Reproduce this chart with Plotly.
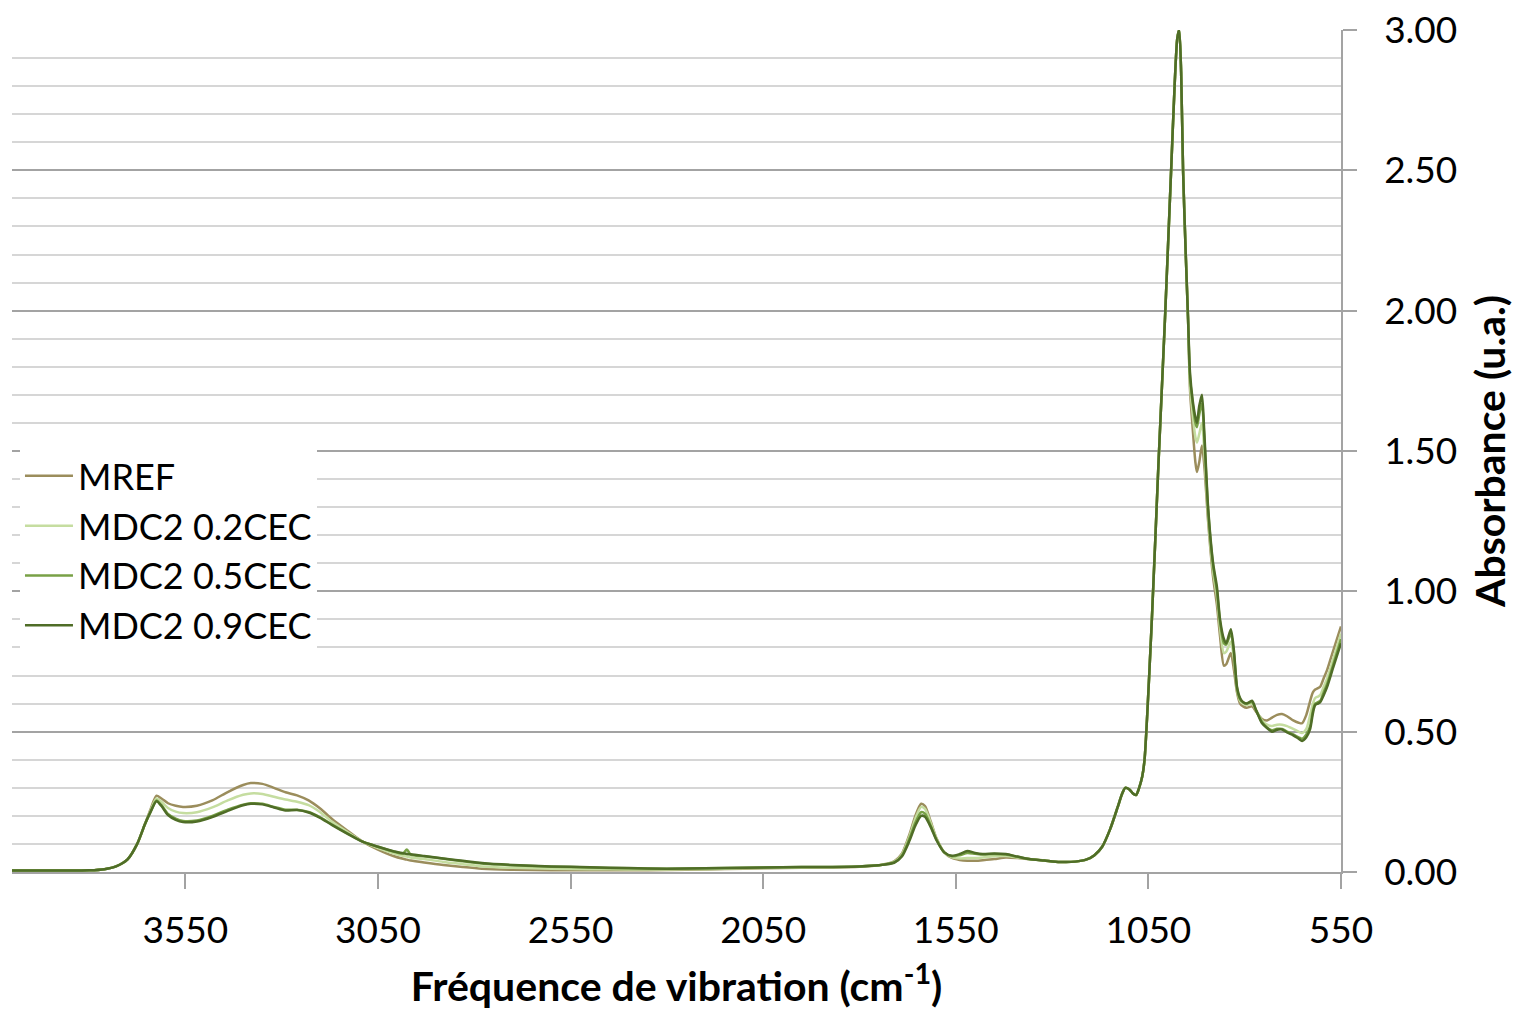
import plotly.graph_objects as go

# Wavenumber grid (cm-1), descending
wavenumber = [
    4000, 3900, 3800, 3760, 3730, 3700, 3675, 3655, 3640, 3625, 3612, 3595, 3575, 3556,
    3520, 3480, 3440, 3400, 3380, 3350, 3320, 3290, 3260, 3230, 3200, 3170, 3130, 3090,
    3050, 3010, 2985, 2975, 2965, 2930, 2880, 2830, 2780, 2700, 2600, 2500, 2400, 2300,
    2200, 2100, 2000, 1900, 1800, 1750, 1710, 1690, 1670, 1655, 1640, 1630, 1615, 1600,
    1580, 1560, 1540, 1520, 1500, 1480, 1450, 1420, 1390, 1360, 1320, 1280, 1240, 1210,
    1190, 1170, 1150, 1130, 1118, 1110, 1100, 1090, 1082, 1074, 1066, 1060, 1041, 1024,
    1007, 991, 982, 975, 970, 965, 960, 953, 947, 942, 935, 928, 924, 918, 911, 905,
    895, 882, 872, 864, 854, 848, 836, 828, 820, 812, 804, 795, 781, 770, 755, 742,
    729, 716, 703, 690, 674, 660, 651, 640, 630, 623, 617, 610, 604, 595, 586, 570, 550,
]

mref = [
    0.005, 0.005, 0.006, 0.010, 0.020, 0.045, 0.10, 0.17, 0.225, 0.272, 0.262, 0.245, 0.236, 0.232,
    0.236, 0.255, 0.285, 0.310, 0.317, 0.314, 0.300, 0.284, 0.273, 0.255, 0.226, 0.190, 0.148, 0.108,
    0.080, 0.057, 0.047, 0.044, 0.041, 0.034, 0.025, 0.018, 0.012, 0.008, 0.006, 0.006, 0.006, 0.007,
    0.009, 0.012, 0.014, 0.016, 0.019, 0.024, 0.038, 0.065, 0.135, 0.200, 0.243, 0.235, 0.180, 0.120,
    0.070, 0.050, 0.043, 0.040, 0.040, 0.042, 0.046, 0.052, 0.050, 0.046, 0.041, 0.036, 0.037, 0.045,
    0.060, 0.090, 0.150, 0.230, 0.280, 0.300, 0.295, 0.280, 0.274, 0.300, 0.340, 0.400, 0.900, 1.450,
    1.970, 2.500, 2.800, 2.970, 3.000, 2.850, 2.500, 2.200, 1.970, 1.720, 1.580, 1.460, 1.425, 1.460, 1.520, 1.450,
    1.250, 1.050, 0.950, 0.840, 0.735, 0.740, 0.780, 0.720, 0.640, 0.600, 0.590, 0.585, 0.590, 0.570, 0.545, 0.540,
    0.550, 0.560, 0.563, 0.555, 0.540, 0.532, 0.530, 0.560, 0.610, 0.640, 0.650, 0.655, 0.660, 0.690, 0.720, 0.790, 0.875,
]

mdc2_02 = [
    0.005, 0.005, 0.006, 0.010, 0.020, 0.045, 0.10, 0.17, 0.220, 0.262, 0.250, 0.228, 0.215, 0.210,
    0.213, 0.230, 0.255, 0.275, 0.280, 0.278, 0.268, 0.258, 0.250, 0.238, 0.213, 0.180, 0.143, 0.108,
    0.085, 0.067, 0.058, 0.055, 0.052, 0.046, 0.036, 0.028, 0.020, 0.015, 0.012, 0.010, 0.009, 0.009,
    0.010, 0.013, 0.015, 0.017, 0.020, 0.024, 0.036, 0.062, 0.128, 0.190, 0.232, 0.225, 0.175, 0.118,
    0.070, 0.052, 0.048, 0.050, 0.050, 0.052, 0.056, 0.057, 0.052, 0.046, 0.041, 0.036, 0.037, 0.045,
    0.060, 0.090, 0.150, 0.230, 0.280, 0.300, 0.295, 0.280, 0.274, 0.300, 0.340, 0.400, 0.900, 1.450,
    1.970, 2.500, 2.800, 2.970, 3.000, 2.850, 2.500, 2.200, 1.970, 1.740, 1.630, 1.550, 1.530, 1.560, 1.600, 1.500,
    1.270, 1.070, 0.980, 0.870, 0.780, 0.785, 0.820, 0.760, 0.650, 0.610, 0.600, 0.595, 0.600, 0.575, 0.540, 0.525,
    0.520, 0.525, 0.525, 0.520, 0.510, 0.500, 0.495, 0.510, 0.560, 0.600, 0.620, 0.625, 0.630, 0.660, 0.690, 0.760, 0.850,
]

mdc2_05 = [
    0.005, 0.005, 0.006, 0.010, 0.020, 0.045, 0.10, 0.17, 0.215, 0.255, 0.238, 0.207, 0.190, 0.182,
    0.184, 0.200, 0.222, 0.240, 0.245, 0.243, 0.232, 0.222, 0.222, 0.214, 0.195, 0.170, 0.138, 0.108,
    0.090, 0.073, 0.066, 0.080, 0.062, 0.056, 0.047, 0.038, 0.030, 0.024, 0.019, 0.016, 0.013, 0.012,
    0.013, 0.015, 0.017, 0.018, 0.020, 0.024, 0.034, 0.058, 0.120, 0.175, 0.213, 0.208, 0.165, 0.115,
    0.070, 0.056, 0.060, 0.068, 0.065, 0.062, 0.064, 0.062, 0.054, 0.046, 0.041, 0.036, 0.037, 0.045,
    0.060, 0.090, 0.150, 0.230, 0.280, 0.300, 0.295, 0.280, 0.274, 0.300, 0.340, 0.400, 0.900, 1.450,
    1.970, 2.500, 2.800, 2.970, 3.000, 2.850, 2.500, 2.200, 1.970, 1.760, 1.670, 1.600, 1.585, 1.630, 1.670, 1.550,
    1.290, 1.090, 1.000, 0.890, 0.815, 0.810, 0.850, 0.780, 0.655, 0.615, 0.605, 0.600, 0.605, 0.575, 0.535, 0.515,
    0.505, 0.510, 0.510, 0.500, 0.490, 0.480, 0.475, 0.490, 0.520, 0.575, 0.600, 0.605, 0.610, 0.640, 0.670, 0.740, 0.830,
]

mdc2_09 = [
    0.005, 0.005, 0.006, 0.010, 0.020, 0.045, 0.10, 0.17, 0.215, 0.252, 0.235, 0.203, 0.186, 0.178,
    0.180, 0.196, 0.218, 0.238, 0.243, 0.241, 0.230, 0.219, 0.221, 0.212, 0.193, 0.168, 0.137, 0.108,
    0.090, 0.074, 0.067, 0.064, 0.063, 0.057, 0.048, 0.040, 0.032, 0.025, 0.020, 0.017, 0.014, 0.012,
    0.013, 0.015, 0.017, 0.018, 0.020, 0.024, 0.033, 0.055, 0.112, 0.165, 0.200, 0.197, 0.160, 0.113,
    0.070, 0.058, 0.064, 0.075, 0.068, 0.064, 0.066, 0.064, 0.055, 0.046, 0.041, 0.036, 0.037, 0.045,
    0.060, 0.090, 0.150, 0.230, 0.280, 0.300, 0.295, 0.280, 0.274, 0.300, 0.340, 0.400, 0.900, 1.450,
    1.970, 2.500, 2.800, 2.970, 3.000, 2.850, 2.500, 2.200, 1.970, 1.780, 1.680, 1.620, 1.600, 1.660, 1.700, 1.570,
    1.300, 1.100, 1.015, 0.900, 0.830, 0.815, 0.865, 0.790, 0.660, 0.620, 0.605, 0.600, 0.610, 0.575, 0.530, 0.513,
    0.500, 0.507, 0.508, 0.497, 0.487, 0.475, 0.467, 0.480, 0.510, 0.565, 0.595, 0.600, 0.605, 0.630, 0.660, 0.730, 0.815,
]

series = [
    ("MREF", mref, "#9B8D5C"),
    ("MDC2 0.2CEC", mdc2_02, "#C5DDA0"),
    ("MDC2 0.5CEC", mdc2_05, "#78A146"),
    ("MDC2 0.9CEC", mdc2_09, "#4F6D27"),
]

x_ticks = [3550, 3050, 2550, 2050, 1550, 1050, 550]

FONT = "Lato, 'Noto Sans', sans-serif"
MAJOR_GRID = "#a3a3a3"
MINOR_GRID = "#d6d6d6"

fig = go.Figure()
for name, values, color in series:
    fig.add_trace(go.Scatter(
        x=wavenumber, y=values, name=name, mode="lines",
        line=dict(color=color, width=2.5, shape="spline", smoothing=0.7),
    ))

fig.update_layout(
    width=1521, height=1012,
    margin=dict(l=12, r=180, t=30, b=140, autoexpand=False),
    paper_bgcolor="white", plot_bgcolor="white",
    font=dict(family=FONT, size=37, color="black"),
    showlegend=True,
    legend=dict(
        x=0.006, y=0.506, xanchor="left", yanchor="top",
        bgcolor="white", borderwidth=0,
        font=dict(family=FONT, size=36, color="black"),
        itemwidth=48, tracegroupgap=0,
    ),
)

fig.update_xaxes(
    range=[4000, 550], autorange=False, automargin=False,
    tickvals=x_ticks, ticktext=[str(v) for v in x_ticks],
    showgrid=False, zeroline=False,
    showline=True, linecolor=MAJOR_GRID, linewidth=1.5,
    ticks="outside", ticklen=15, tickwidth=1.5, tickcolor=MAJOR_GRID,
    tickfont=dict(family=FONT, size=37, color="black"),
    ticklabelstandoff=10,
    title=dict(text="<b>Fréquence de vibration (cm<sup>-1</sup>)</b>",
               font=dict(family=FONT, size=41, color="black"), standoff=22),
)

fig.update_yaxes(
    range=[0, 3], autorange=False, side="right", automargin=False,
    tickvals=[0, 0.5, 1.0, 1.5, 2.0, 2.5, 3.0], tickformat=".2f",
    showgrid=True, gridcolor=MAJOR_GRID, gridwidth=1.5,
    minor=dict(dtick=0.1, tick0=0, showgrid=True, gridcolor=MINOR_GRID, gridwidth=1.5, ticks=""),
    zeroline=False,
    showline=True, linecolor=MAJOR_GRID, linewidth=1.5,
    ticks="outside", ticklen=14, tickwidth=1.5, tickcolor=MAJOR_GRID,
    tickfont=dict(family=FONT, size=37, color="black"),
    ticklabelstandoff=20,
    title=dict(text="<b>Absorbance (u.a.)</b>",
               font=dict(family=FONT, size=41, color="black"), standoff=20),
)

fig.write_html("out.html")
